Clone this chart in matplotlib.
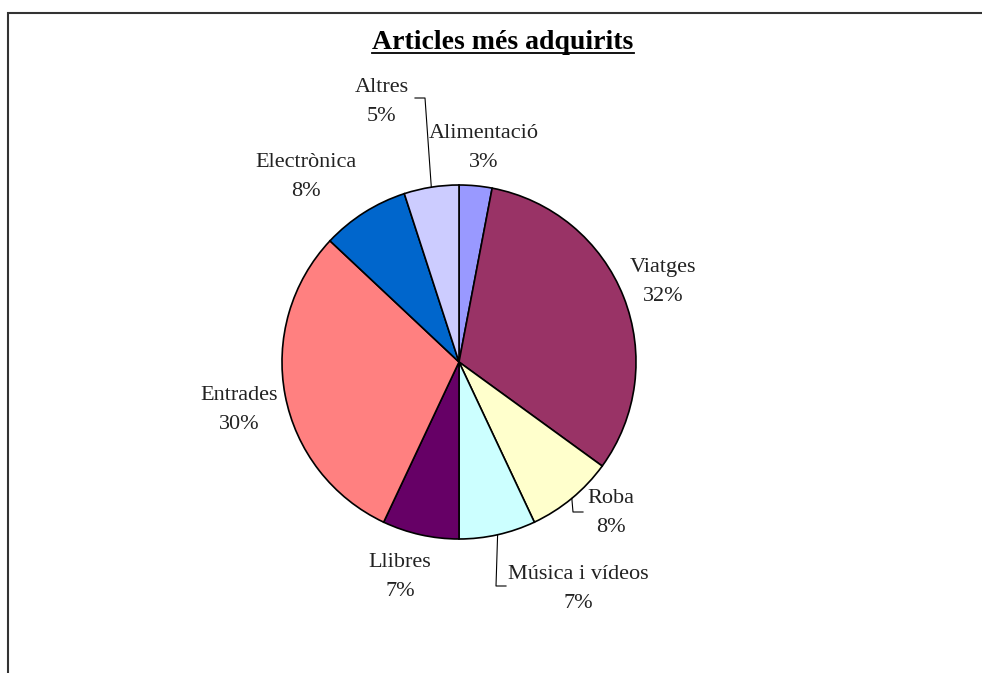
import numpy as np
import matplotlib.pyplot as plt
from matplotlib.lines import Line2D
from matplotlib.patches import Rectangle

# dades del gràfic
categories = ['Alimentació', 'Viatges', 'Roba', 'Música i vídeos',
              'Llibres', 'Entrades', 'Electrònica', 'Altres']
percentages = [3, 32, 8, 7, 7, 30, 8, 5]
colors = ['#9999FF', '#993366', '#FFFFCC', '#CCFFFF',
          '#660066', '#FF8080', '#0066CC', '#CCCCFF']

W, H = 982, 673
cx, cy, r = 459, 362, 177   # centre i radi del pastís (px)

# posició de les etiquetes (px, centre del bloc de text)
label_pos = [(484, 148), (663, 282), (611, 513), (578, 589),
             (400, 577), (239, 410), (306, 177), (382, 102)]
# línies guia: colze i final (px)
leaders = {7: [(425, 98), (415, 98)],
           2: [(573, 512), (583, 512)],
           3: [(496, 586), (506, 586)]}

serif = ['Liberation Serif', 'DejaVu Serif']
txt_color = '#222222'


def to_data(p):
    return ((p[0] - cx) / r, (cy - p[1]) / r)


fig = plt.figure(figsize=(W / 100, H / 100), dpi=100)
ax = fig.add_axes([(cx - r) / W, (H - cy - r) / H, 2 * r / W, 2 * r / H])
wedges, _ = ax.pie(percentages, colors=colors, startangle=90, counterclock=False,
                   radius=1, frame=False,
                   wedgeprops=dict(edgecolor='black', linewidth=1.2))
ax.set_xlim(-1, 1)
ax.set_ylim(-1, 1)
ax.set_aspect('equal')
ax.axis('off')

for i, (name, pct) in enumerate(zip(categories, percentages)):
    x, y = to_data(label_pos[i])
    ax.text(x, y, f'{name}\n{pct}%', ha='center', va='center', fontsize=16,
            family=serif, color=txt_color, linespacing=1.65, clip_on=False)
    if i in leaders:
        w = wedges[i]
        mid = np.deg2rad((w.theta1 + w.theta2) / 2)
        pts = [(np.cos(mid), np.sin(mid))] + [to_data(p) for p in leaders[i]]
        xs, ys = zip(*pts)
        ax.add_line(Line2D(xs, ys, color='black', lw=0.8, clip_on=False))

# títol subratllat
title = fig.text(503 / W, 1 - 49 / H, 'Articles més adquirits', ha='center',
                 va='baseline', fontsize=20, fontweight='bold', family=serif,
                 color='black')
fig.canvas.draw()
bb = title.get_window_extent()
fig.add_artist(Line2D([bb.x0 / W, bb.x1 / W], [1 - 53 / H, 1 - 53 / H],
                      color='black', lw=1.3))

# marc de l'àrea del gràfic
fig.add_artist(Rectangle((8 / W, -0.1), 1.2, 1.1 - 13 / H, fill=False,
                         edgecolor='#333333', lw=1.5))

fig.savefig('out.png', dpi=100)
